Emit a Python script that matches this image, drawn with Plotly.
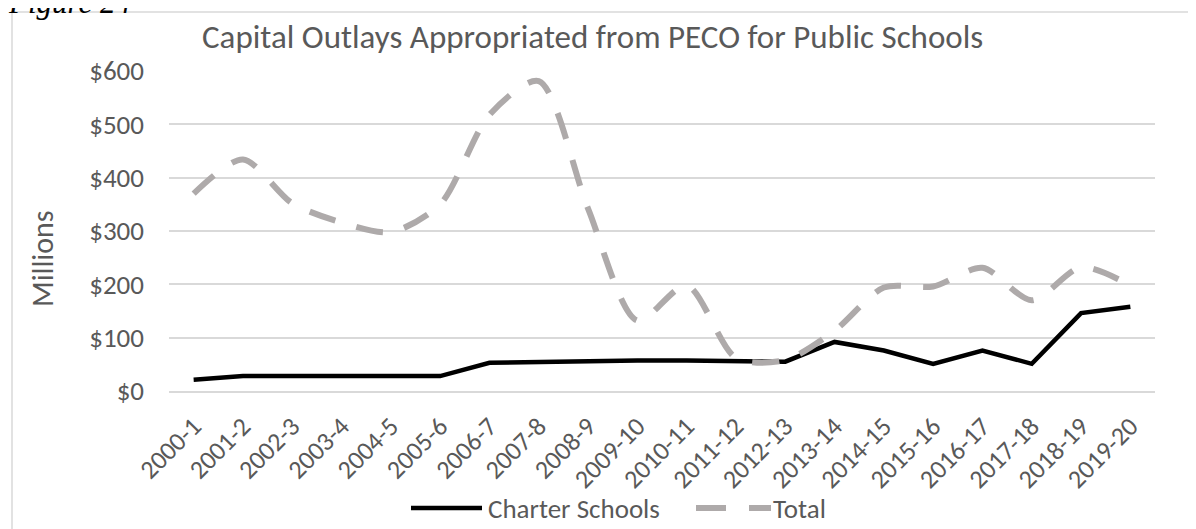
import plotly.graph_objects as go

years = ["2000-1", "2001-2", "2002-3", "2003-4", "2004-5", "2005-6", "2006-7",
         "2007-8", "2008-9", "2009-10", "2010-11", "2011-12", "2012-13", "2013-14",
         "2014-15", "2015-16", "2016-17", "2017-18", "2018-19", "2019-20"]
charter = [21, 28, 28, 28, 28, 28, 53, 55, 56, 57, 57, 56, 55, 92, 76, 51, 76, 51, 146, 158]
total = [370, 434, 352, 316, 298, 350, 518, 581, 342, 132, 198, 62, 58, 113, 194, 196, 231, 170, 232, 198]
y_ticks = [0, 100, 200, 300, 400, 500, 600]
y_tick_text = ["$0", "$100", "$200", "$300", "$400", "$500", "$600"]
series_names = ["Charter Schools", "Total"]

# page offset (default body margin of the html page)
OFF = 8
W, H = 1196 - OFF, 529 - OFF
# plot area in page pixels: x 169..1155, y 71..391
L = 169 - OFF
R = W - (1155 - OFF)
T = 71 - OFF
B = H - (391 - OFF)
PW, PH = W - L - R, H - T - B


def px_x(p):  # page px -> paper
    return (p - OFF - L) / PW


def px_y(p):  # page px -> paper
    return (H - B - (p - OFF)) / PH


FONT = "Calibri, Carlito, Lato, sans-serif"
TXT = "#595959"
GRID = "#d9d9d9"
C_CHARTER = "#000000"
C_TOTAL = "#AEAAAA"

fig = go.Figure()
fig.add_trace(go.Scatter(
    x=years, y=charter, name=series_names[0], mode="lines",
    line=dict(color=C_CHARTER, width=4.5),
))
fig.add_trace(go.Scatter(
    x=years, y=total, name=series_names[1], mode="lines",
    line=dict(color=C_TOTAL, width=6, dash="27px,22px", shape="spline", smoothing=0.8),
))

fig.update_layout(
    width=W, height=H,
    margin=dict(l=L, r=R, t=T, b=B, autoexpand=False),
    paper_bgcolor="white", plot_bgcolor="white",
    font=dict(family=FONT, color=TXT, size=27),
    showlegend=False,
    xaxis=dict(type="category", range=[-0.5, len(years) - 0.5], showgrid=False,
               showline=True, linecolor=GRID, linewidth=1.5, ticks="",
               tickangle=-45, tickfont=dict(size=26, color=TXT, family=FONT),
               ticklabelstandoff=8, zeroline=False, fixedrange=True),
    yaxis=dict(range=[0, 600], tickvals=y_ticks, ticktext=y_tick_text,
               showgrid=True, gridcolor=GRID, gridwidth=1.5, zeroline=False,
               showline=False, ticks="", tickfont=dict(size=27, color=TXT, family=FONT),
               ticklabelstandoff=24, fixedrange=True),
)

fig.add_annotation(text="Capital Outlays Appropriated from PECO for Public Schools",
                   xref="paper", yref="paper", x=px_x(592), y=px_y(37),
                   xanchor="center", yanchor="middle", showarrow=False,
                   font=dict(size=33, color=TXT, family=FONT))
fig.add_annotation(text="Millions", xref="paper", yref="paper", x=px_x(42), y=px_y(259),
                   xanchor="center", yanchor="middle", textangle=-90, showarrow=False,
                   font=dict(size=30, color=TXT, family=FONT))
fig.add_annotation(text="<i>Figure 24</i>", xref="paper", yref="paper", x=px_x(6), y=px_y(22),
                   xanchor="left", yanchor="bottom", showarrow=False,
                   font=dict(size=31, color="#000000", family="Liberation Serif, Times New Roman, serif"))

# chart frame (left and top edges visible)
fig.add_shape(type="line", xref="paper", yref="paper", x0=px_x(12), x1=px_x(1196),
              y0=px_y(12), y1=px_y(12), line=dict(color=GRID, width=1.5), layer="below")
fig.add_shape(type="line", xref="paper", yref="paper", x0=px_x(12), x1=px_x(12),
              y0=px_y(12), y1=px_y(529), line=dict(color=GRID, width=1.5), layer="below")

# legend (Excel-style long line samples)
LEG_Y = px_y(508)
fig.add_shape(type="line", xref="paper", yref="paper", x0=px_x(411), x1=px_x(482),
              y0=LEG_Y, y1=LEG_Y, line=dict(color=C_CHARTER, width=4.5))
fig.add_annotation(text=series_names[0], xref="paper", yref="paper", x=px_x(486), y=LEG_Y,
                   xanchor="left", yanchor="middle", showarrow=False,
                   font=dict(size=27, color=TXT, family=FONT))
fig.add_shape(type="line", xref="paper", yref="paper", x0=px_x(696), x1=px_x(771),
              y0=LEG_Y, y1=LEG_Y, line=dict(color=C_TOTAL, width=6, dash="30px,23px"))
fig.add_annotation(text=series_names[1], xref="paper", yref="paper", x=px_x(771), y=LEG_Y,
                   xanchor="left", yanchor="middle", showarrow=False,
                   font=dict(size=27, color=TXT, family=FONT))

fig.write_html("out.html")
